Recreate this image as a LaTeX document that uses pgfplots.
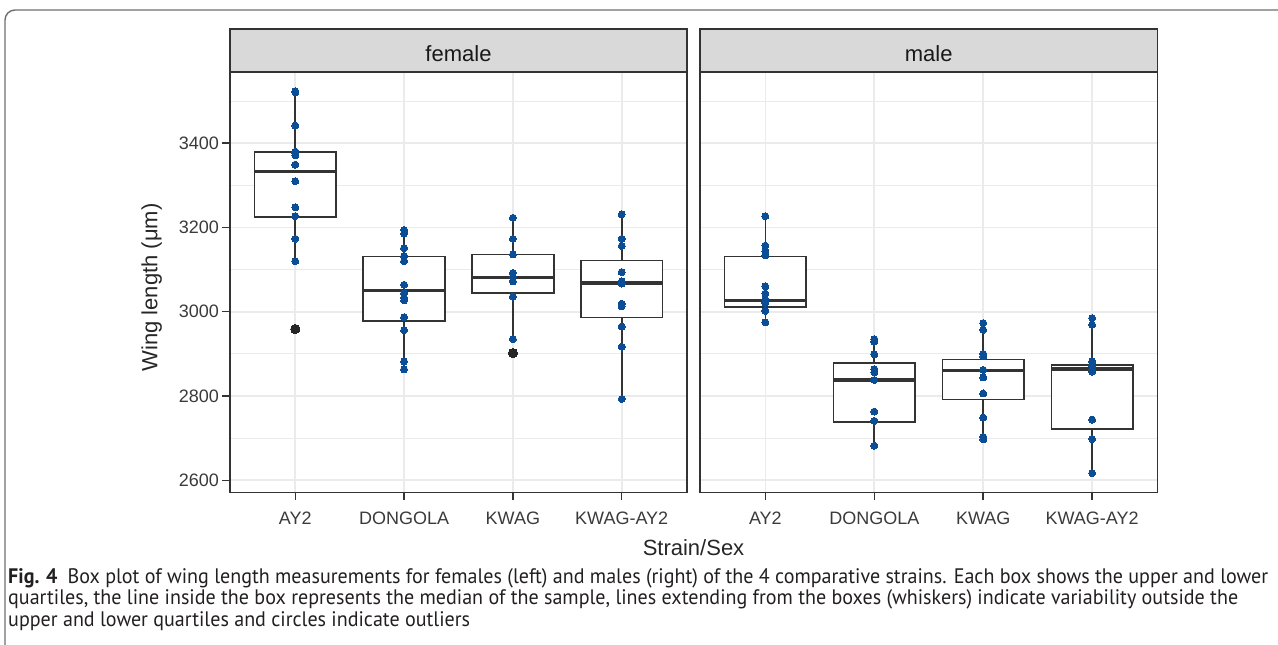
\documentclass[border=0pt]{standalone}
\usepackage{pgfplots}
\pgfplotsset{compat=1.18}
\usepackage{graphicx}
\usepackage{fontspec}
\setmainfont{Liberation Sans}
\newfontfamily\capfont{PT Sans}
\definecolor{ptblue}{RGB}{12,78,150}
\definecolor{outc}{RGB}{38,38,38}
\definecolor{framec}{RGB}{51,51,51}
\definecolor{gridc}{RGB}{235,235,235}
\definecolor{stripc}{RGB}{217,217,217}
\definecolor{tickc}{RGB}{58,58,58}
\definecolor{boxgray}{RGB}{110,110,110}
\definecolor{captc}{RGB}{35,31,32}
\newlength\capw
\newcommand{\capone}{\textbf{Fig. 4}\hspace{0.5em}Box plot of wing length measurements for females (left) and males (right) of the 4 comparative strains. Each box shows the upper and lower}
\pgfplotsset{
  panel/.style={
    scale only axis, width=457pt, height=420.5pt,
    xmin=0.4, xmax=4.6, ymin=2571, ymax=3569,
    xtick={1,2,3,4}, xticklabels={AY2,DONGOLA,KWAG,KWAG-AY2},
    ytick={2600,2800,3000,3200,3400}, minor ytick={2700,2900,3100,3300,3500},
    grid=both,
    major grid style={draw=gridc, line width=1.6pt},
    minor grid style={draw=gridc, line width=0.9pt},
    axis line style={draw=framec, line width=1.8pt},
    tick align=outside, tick pos=left, major tick length=7.5pt, minor tick length=0pt,
    tick style={draw=framec, line width=1.5pt},
    xticklabel style={font=\fontsize{18}{18}\selectfont, text=tickc, yshift=-8.5pt},
    yticklabel style={font=\fontsize{18}{18}\selectfont, text=tickc},
  },
  pts/.style={only marks, mark=*, mark size=3.5pt, mark options={fill=ptblue, draw=ptblue, line width=0pt}},
  outl/.style={only marks, mark=*, mark size=4.6pt, mark options={fill=outc, draw=outc, line width=0pt}},
}
% #1 position, #2 lower whisker, #3 lower quartile, #4 median, #5 upper quartile, #6 upper whisker
\newcommand{\bx}[6]{%
  \pgfmathsetmacro\bxl{#1-0.375}\pgfmathsetmacro\bxr{#1+0.375}%
  \addplot[draw=framec, line width=1.6pt] coordinates {(#1,#2)(#1,#3)};
  \addplot[draw=framec, line width=1.6pt] coordinates {(#1,#5)(#1,#6)};
  \addplot[draw=framec, fill=white, line width=1.6pt] coordinates {(\bxl,#3)(\bxr,#3)(\bxr,#5)(\bxl,#5)} -- cycle;
  \addplot[draw=framec, line width=3.2pt] coordinates {(\bxl,#4)(\bxr,#4)};
}
\begin{document}%
\settowidth{\capw}{\capfont\fontsize{21}{21}\selectfont\capone}%
\pgfmathsetmacro\capsx{1260/\capw}%
\begin{tikzpicture}
\path[use as bounding box] (0pt,0pt) rectangle (1278pt,645pt);
% outer frame
\draw[color=boxgray, line width=1.4pt] (5pt,0pt) -- (5pt,625pt) arc[start angle=180, end angle=90, radius=10pt] -- (1278pt,635pt);
% strips
\draw[fill=stripc, draw=framec, line width=1.8pt] (230pt,573.3pt) rectangle (687pt,615.7pt);
\draw[fill=stripc, draw=framec, line width=1.8pt] (700pt,573.3pt) rectangle (1157.5pt,615.7pt);
\node[text=black!90, font=\fontsize{22}{22}\selectfont] at (458.5pt,591.5pt) {female};
\node[text=black!90, font=\fontsize{22}{22}\selectfont] at (928.75pt,591.5pt) {male};
% female panel
\begin{axis}[panel, at={(230pt,152.5pt)}, anchor=south west, yticklabels={2600,2800,3000,3200,3400}]
\bx{1}{3120}{3225}{3332}{3379}{3523}
\bx{2}{2863}{2978}{3051}{3131}{3194}
\bx{3}{2935}{3044}{3081}{3136}{3223}
\bx{4}{2793}{2986}{3068}{3122}{3231}
\addplot[pts] coordinates {
(1,3523)(1,3521)(1,3442)(1,3380)(1,3376)(1,3371)(1,3349)(1,3310)(1,3248)(1,3227)(1,3173)(1,3120)(1,2959)
(2,3194)(2,3186)(2,3151)(2,3132)(2,3120)(2,3064)(2,3044)(2,3033)(2,3027)(2,2987)(2,2956)(2,2882)(2,2863)
(3,3223)(3,3173)(3,3136)(3,3092)(3,3083)(3,3072)(3,3036)(3,2935)(3,2902)
(4,3231)(4,3173)(4,3156)(4,3094)(4,3072)(4,3067)(4,3019)(4,3013)(4,2965)(4,2917)(4,2793)};
\addplot[outl] coordinates {(1,2959)(3,2902)};
\end{axis}
% male panel
\begin{axis}[panel, width=457.5pt, at={(700pt,152.5pt)}, anchor=south west, yticklabels={}, ytick style={draw=none}]
\bx{1}{2975}{3011}{3027}{3131}{3227}
\bx{2}{2682}{2739}{2838}{2879}{2935}
\bx{3}{2697}{2792}{2860}{2887}{2973}
\bx{4}{2617}{2721}{2864}{2874}{2985}
\addplot[pts] coordinates {
(1,3227)(1,3157)(1,3144)(1,3134)(1,3060)(1,3043)(1,3029)(1,3021)(1,3002)(1,2975)
(2,2935)(2,2929)(2,2899)(2,2864)(2,2856)(2,2838)(2,2763)(2,2741)(2,2682)
(3,2973)(3,2957)(3,2900)(3,2894)(3,2862)(3,2844)(3,2806)(3,2749)(3,2703)(3,2697)
(4,2985)(4,2969)(4,2882)(4,2872)(4,2864)(4,2858)(4,2744)(4,2698)(4,2617)};
\end{axis}
% axis titles
\node[rotate=90, font=\fontsize{22}{22}\selectfont, text=black!85] at (151.7pt,357.5pt) {Wing length (μm)};
\node[font=\fontsize{22}{22}\selectfont, text=black!85] at (693.5pt,97pt) {Strain/Sex};
% caption
\node[anchor=base west, inner sep=0pt, text=captc] at (8pt,61.5pt) {\scalebox{\capsx}[1]{\capfont\fontsize{21}{21}\selectfont\capone}};
\node[anchor=base west, inner sep=0pt, text=captc] at (8pt,40pt) {\scalebox{\capsx}[1]{\capfont\fontsize{21}{21}\selectfont quartiles, the line inside the box represents the median of the sample, lines extending from the boxes (whiskers) indicate variability outside the}};
\node[anchor=base west, inner sep=0pt, text=captc] at (8pt,18.5pt) {\scalebox{\capsx}[1]{\capfont\fontsize{21}{21}\selectfont upper and lower quartiles and circles indicate outliers}};
\end{tikzpicture}%
\end{document}
